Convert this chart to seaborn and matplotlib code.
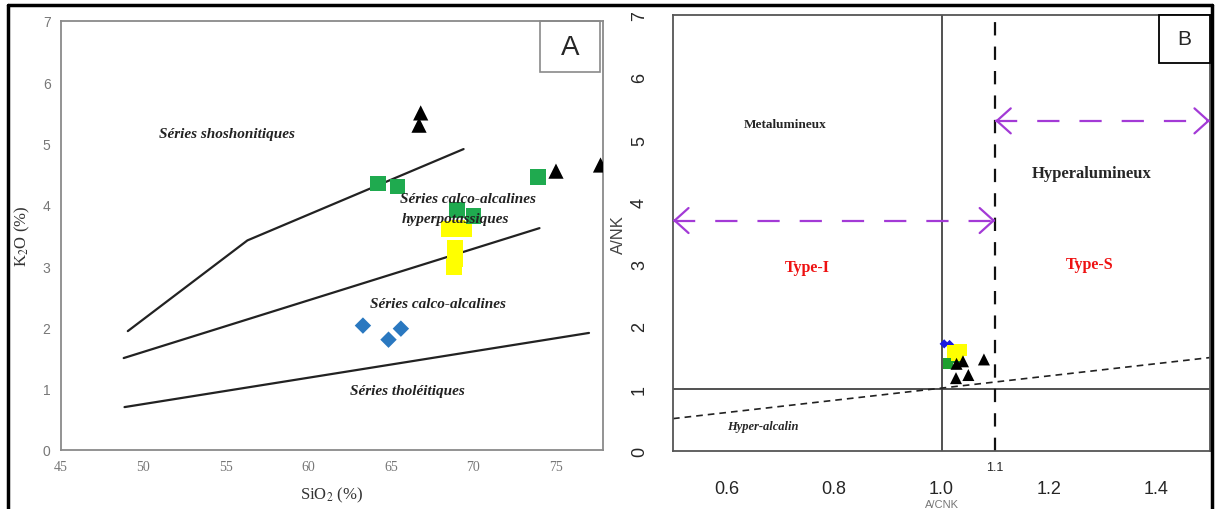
import seaborn as sns
import matplotlib.pyplot as plt
import pandas as pd
from matplotlib.lines import Line2D
from matplotlib.patches import Rectangle

# ---- panel A : K2O vs SiO2 ----
sio2_tri = [66.8, 66.7, 75.0, 77.7]
k2o_tri = [5.5, 5.3, 4.55, 4.65]
sio2_green = [64.2, 65.4, 73.9, 69.0, 70.0]
k2o_green = [4.35, 4.3, 4.45, 3.92, 3.82]
sio2_yellow = [68.5, 69.0, 69.4, 68.9, 68.9, 68.8]
k2o_yellow = [3.6, 3.62, 3.6, 3.3, 3.12, 2.98]
sio2_blue = [63.3, 64.85, 65.6]
k2o_blue = [2.03, 1.8, 1.98]

shosho_x = [49.05, 56.3, 69.4]
shosho_y = [1.94, 3.42, 4.91]
highk_x = [48.8, 74.0]
highk_y = [1.5, 3.62]
thol_x = [48.85, 77.0]
thol_y = [0.70, 1.91]

# ---- panel B : A/NK vs A/CNK ----
acnk_blue = [1.005, 1.015]
ank_blue = [1.72, 1.71]
acnk_yellow = [1.022, 1.035, 1.03]
ank_yellow = [1.6, 1.62, 1.55]
acnk_green = [1.012, 1.03]
ank_green = [1.4, 1.5]
acnk_tri = [1.028, 1.04, 1.027, 1.05, 1.079]
ank_tri = [1.40, 1.44, 1.17, 1.22, 1.47]

alk_x = [0.5, 1.5]
alk_y = [0.52, 1.5]
type_limit = 1.1
typeI_arrow = [0.5, 1.1, 3.7]
typeS_arrow = [1.1, 1.5, 5.3]

sns.set_style("white")
plt.rcParams["font.family"] = ["Liberation Serif", "DejaVu Sans"]
plt.rcParams["mathtext.fontset"] = "stix"

fig = plt.figure(figsize=(12.15, 5.1), dpi=100)
axA = fig.add_axes([0.0502, 0.1157, 0.4461, 0.8412])
axB = fig.add_axes([0.5539, 0.1137, 0.4420, 0.8550])

# ------------- panel A -------------
gray = "#8a8a8a"
for xs, ys in [(shosho_x, shosho_y), (highk_x, highk_y), (thol_x, thol_y)]:
    sns.lineplot(x=xs, y=ys, sort=False, estimator=None, color="#222222", lw=1.6, ax=axA)

sns.scatterplot(x=sio2_yellow, y=k2o_yellow, marker="s", s=130, color="#ffff00",
                edgecolor="none", ax=axA, zorder=3)
sns.scatterplot(x=sio2_green, y=k2o_green, marker="s", s=125, color="#1faa4f",
                edgecolor="none", ax=axA, zorder=3)
sns.scatterplot(x=sio2_blue, y=k2o_blue, marker="D", s=70, color="#2a78c0",
                edgecolor="none", ax=axA, zorder=3)
sns.scatterplot(x=sio2_tri, y=k2o_tri, marker="^", s=120, color="black",
                edgecolor="none", ax=axA, zorder=4)

axA.set_xlim(45, 77.85)
axA.set_ylim(0, 7)
axA.set_xticks(range(45, 80, 5))
axA.set_yticks(range(0, 8))
for sp in axA.spines.values():
    sp.set_color(gray)
    sp.set_linewidth(1.3)
axA.tick_params(axis="both", direction="out", length=4, width=1, color=gray,
                labelcolor="#777777", labelsize=10)
for lab in axA.get_yticklabels():
    lab.set_family("Liberation Sans")

axA.set_xlabel("SiO$_2$ (%)", fontsize=12, color="#333333", labelpad=8)
axA.set_ylabel("K$_2$O (%)", fontsize=12, color="#333333", va="center")
axA.yaxis.set_label_coords(-0.072, 0.5)

lab_kw = dict(fontsize=11, fontweight="bold", fontstyle="italic", color="#222222",
              ha="center", va="center")
axA.text(55.05, 5.16, "Séries shoshonitiques", **lab_kw)
axA.text(69.65, 4.11, "Séries calco-alcalines", **lab_kw)
axA.text(68.9, 3.78, "hyperpotassiques", **lab_kw)
axA.text(67.85, 2.39, "Séries calco-alcalines", **lab_kw)
axA.text(66.0, 0.97, "Séries tholéitiques", **lab_kw)

axA.add_patch(Rectangle((0.884, 0.881), 0.11, 0.119, transform=axA.transAxes,
                        fill=False, ec=gray, lw=1.2, clip_on=False, zorder=5))
axA.text(0.939, 0.94, "A", transform=axA.transAxes, fontsize=20,
         family="Liberation Sans", ha="center", va="center")

# ------------- panel B -------------
axB.axvline(1.0, color="#333333", lw=1.2)
axB.axhline(1.0, color="#333333", lw=1.2)
axB.axvline(type_limit, color="#111111", lw=1.6, ls=(0, (6, 5)))
sns.lineplot(x=alk_x, y=alk_y, color="#222222", lw=1.2, ls=(0, (4, 3)), ax=axB)

purple = "#a33ad6"
for x0, x1, yv in [typeI_arrow, typeS_arrow]:
    axB.plot([x0, x1], [yv, yv], color=purple, lw=1.6, ls=(0, (10, 9)))
    for tip, tail in [(x0, x0 + 0.005), (x1, x1 - 0.005)]:
        axB.annotate("", xy=(tip, yv), xytext=(tail, yv),
                     arrowprops=dict(arrowstyle="->,head_length=1.0,head_width=0.9",
                                     color=purple, lw=1.6, shrinkA=0, shrinkB=0))

sns.scatterplot(x=acnk_blue, y=ank_blue, marker="D", s=22, color="#1a1ae0",
                edgecolor="none", ax=axB, zorder=3)
sns.scatterplot(x=acnk_green, y=ank_green, marker="s", s=60, color="#1fa030",
                edgecolor="none", ax=axB, zorder=3)
sns.scatterplot(x=acnk_yellow, y=ank_yellow, marker="s", s=80, color="#ffff00",
                edgecolor="none", ax=axB, zorder=3)
sns.scatterplot(x=acnk_tri, y=ank_tri, marker="^", s=75, color="black",
                edgecolor="none", ax=axB, zorder=4)

axB.set_xlim(0.5, 1.5)
axB.set_ylim(0, 7)
axB.set_xticks([0.6, 0.8, 1.0, 1.2, 1.4])
axB.set_xticklabels(["0.6", "0.8", "1.0", "1.2", "1.4"])
axB.set_xticks([type_limit], minor=True)
axB.set_xticklabels(["1.1"], minor=True)
axB.set_yticks(range(0, 8))
for sp in axB.spines.values():
    sp.set_color("#555555")
    sp.set_linewidth(1.3)
axB.tick_params(axis="x", which="major", direction="out", length=7, width=1.2,
                color="#333333", pad=14, labelsize=13)
axB.tick_params(axis="x", which="minor", direction="out", length=4, width=1.2,
                color="#333333", pad=3, labelsize=9)
axB.tick_params(axis="y", direction="out", length=8, width=1.2, color="#333333",
                pad=10, labelsize=13, labelrotation=90)
for lab in axB.get_xticklabels(which="both") + axB.get_yticklabels():
    lab.set_family("Liberation Sans")
for lab in axB.get_yticklabels():
    lab.set_va("center")

axB.set_xlabel("A/CNK", fontsize=8, color="#777777", family="Liberation Sans", labelpad=1)
fig.text(618 / 1215, 1 - 235 / 510, "A/NK", rotation=90, fontsize=12, color="#444444",
         family="Liberation Sans", ha="center", va="center")

axB.text(0.708, 5.25, "Metalumineux", fontsize=9.5, fontweight="bold",
         ha="center", va="center")
axB.text(1.28, 4.46, "Hyperalumineux", fontsize=12, fontweight="bold",
         ha="center", va="center")
axB.text(0.75, 2.96, "Type-I", fontsize=11.5, fontweight="bold", color="#ee1111",
         ha="center", va="center")
axB.text(1.276, 3.01, "Type-S", fontsize=11.5, fontweight="bold", color="#ee1111",
         ha="center", va="center")
axB.text(0.667, 0.40, "Hyper-alcalin", fontsize=9, fontweight="bold",
         fontstyle="italic", ha="center", va="center")

axB.add_patch(Rectangle((0.905, 0.89), 0.095, 0.11, transform=axB.transAxes,
                        fill=True, fc="white", ec="black", lw=1.3, clip_on=False, zorder=5))
axB.text(0.9525, 0.945, "B", transform=axB.transAxes, fontsize=15,
         family="Liberation Sans", ha="center", va="center", zorder=6)

# ---- outer frame ----
fy = 1 - 6 / 510
fig.add_artist(Line2D([8 / 1215, 1212 / 1215], [fy, fy], color="black", lw=2.5,
                      transform=fig.transFigure))
fig.add_artist(Line2D([8 / 1215, 8 / 1215], [0, fy], color="black", lw=2.5,
                      transform=fig.transFigure))
fig.add_artist(Line2D([1212 / 1215, 1212 / 1215], [0, fy], color="black", lw=2.5,
                      transform=fig.transFigure))

fig.savefig("out.png", dpi=100)
